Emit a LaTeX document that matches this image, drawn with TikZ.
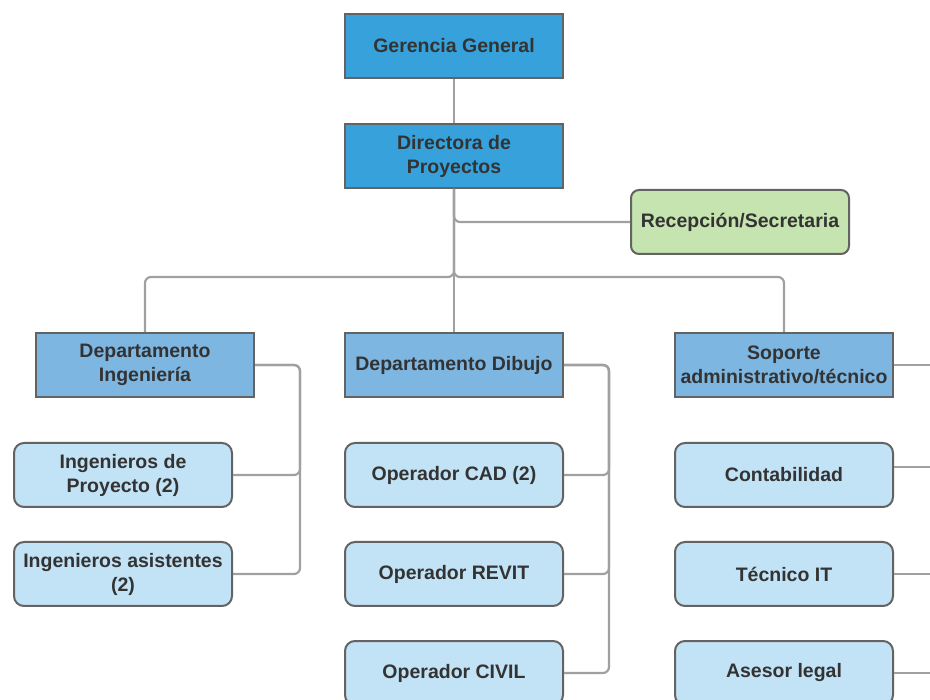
\documentclass[tikz,border=0pt]{standalone}
\usepackage{fontspec}
\setmainfont{Liberation Sans}
\begin{document}
\definecolor{topblue}{RGB}{55,161,219}
\definecolor{deptblue}{RGB}{126,182,226}
\definecolor{leafblue}{RGB}{194,226,246}
\definecolor{recgreen}{RGB}{197,228,176}
\definecolor{boxline}{RGB}{99,99,99}
\definecolor{linkgray}{RGB}{160,160,160}
\definecolor{txt}{RGB}{51,51,51}
\tikzset{
  box/.style={draw=boxline, line width=2pt, minimum width=218pt, minimum height=64pt,
    inner sep=2pt, align=center, text=txt,
    font=\fontsize{19.5}{24}\selectfont\bfseries},
  headbox/.style={box, fill=topblue},
  deptbox/.style={box, fill=deptblue},
  leafbox/.style={box, fill=leafblue, rounded corners=10pt},
  recbox/.style={box, fill=recgreen, rounded corners=8pt},
  link/.style={draw=linkgray, line width=2.2pt, rounded corners=6pt}
}
\begin{tikzpicture}[x=1pt, y=-1pt]
\clip (0,0) rectangle (930,700);
\fill[white] (0,0) rectangle (930,700);

% top of the chart
\node[headbox] (gg)  at (454,46)  {Gerencia General};
\node[headbox] (dir) at (454,156) {Directora de\\Proyectos};
\node[recbox]  (rec) at (740,222) {Recepción/Secretaria};

% departments
\node[deptbox] (ding) at (145,365) {Departamento\\Ingeniería};
\node[deptbox] (ddib) at (454,365) {Departamento Dibujo};
\node[deptbox] (sop)  at (784,365) {Soporte\\administrativo/técnico};

% staff of each department
\node[leafbox] (ip)  at (123,475) {Ingenieros de\\Proyecto (2)};
\node[leafbox] (ia)  at (123,574) {Ingenieros asistentes\\(2)};
\node[leafbox] (cad) at (454,475) {Operador CAD (2)};
\node[leafbox] (rev) at (454,574) {Operador REVIT};
\node[leafbox] (civ) at (454,673) {Operador CIVIL};
\node[leafbox] (con) at (784,475) {Contabilidad};
\node[leafbox] (tit) at (784,574) {Técnico IT};
\node[leafbox] (ase) at (784,673) {Asesor legal};

% routing helpers
\coordinate (bus) at (454,277);
\coordinate (ingx) at (300,0);
\coordinate (dibx) at (609,0);
\coordinate (sopx) at (945,0);

% connectors
\draw[link] (gg) -- (dir);
\draw[link] (dir.south) |- (rec.west);
\draw[link] (dir.south) -- (bus) -| (ding.north);
\draw[link] (dir.south) -- (ddib.north);
\draw[link] (dir.south) -- (bus) -| (sop.north);

\draw[link] (ding.east) -- (ding.east -| ingx) |- (ip.east);
\draw[link] (ding.east) -- (ding.east -| ingx) |- (ia.east);

\draw[link] (ddib.east) -- (ddib.east -| dibx) |- (cad.east);
\draw[link] (ddib.east) -- (ddib.east -| dibx) |- (rev.east);
\draw[link] (ddib.east) -- (ddib.east -| dibx) |- (civ.east);

\draw[link] (sop.east) -- (sop.east -| sopx);
\draw[link] ([yshift=8pt]con.east) -- ([yshift=8pt]con.east -| sopx);
\draw[link] (tit.east) -- (tit.east -| sopx);
\draw[link] (ase.east) -- (ase.east -| sopx);
\end{tikzpicture}
\end{document}
